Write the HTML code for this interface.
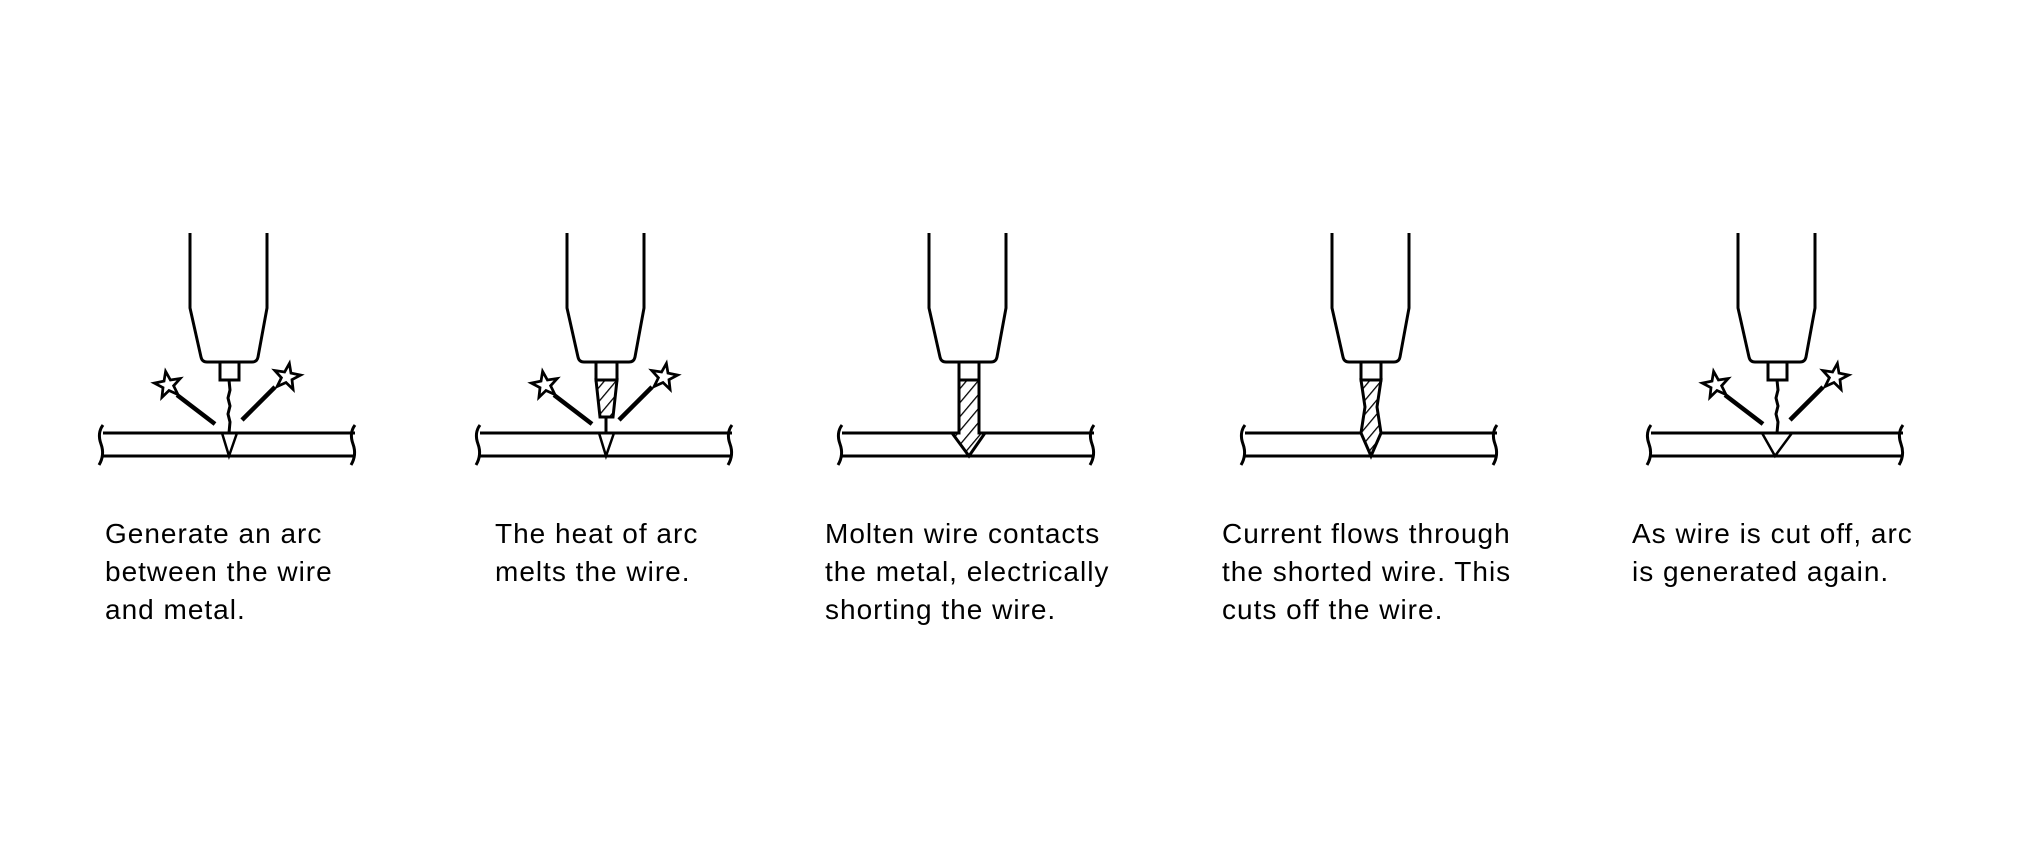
<!DOCTYPE html>
<html><head><meta charset="utf-8"><style>
html,body{margin:0;padding:0;background:#fff;}
svg{display:block;}
text{font-family:"Liberation Sans",Arial,sans-serif;font-size:28px;letter-spacing:1px;fill:#000;}
</style></head><body>
<svg width="2021" height="851" viewBox="0 0 2021 851" xmlns="http://www.w3.org/2000/svg">
<defs>
<pattern id="h" patternUnits="userSpaceOnUse" width="9" height="9" patternTransform="rotate(40)">
<rect width="9" height="9" fill="#fff"/><line x1="0" y1="0" x2="0" y2="9" stroke="#000" stroke-width="2.6"/>
</pattern>
<g id="base" fill="none" stroke="#000" stroke-width="3">
<path d="M-39 233 V308 L-28 357 Q-27 362 -22 362 H23 Q28 362 29 357 L38 308 V233"/>
<line x1="-126" y1="433" x2="126" y2="433"/>
<line x1="-126" y1="456" x2="126" y2="456"/>
<path d="M-126 425 Q-132 433 -128 444 Q-124 455 -130 465"/>
<path d="M126 425 Q120 433 124 444 Q128 455 122 465"/>
</g>
<g id="sparks" fill="none" stroke="#000">
<line x1="-52" y1="395" x2="-14" y2="424" stroke-width="4.5"/>
<line x1="46" y1="387" x2="13" y2="420" stroke-width="4.5"/>
<path transform="translate(-61,385) rotate(-10) scale(1.25)" stroke-width="2.2" d="M0 -11 L2.6 -3.6 L10.5 -3.4 L4.3 1.4 L6.5 8.9 L0 4.5 L-6.5 8.9 L-4.3 1.4 L-10.5 -3.4 L-2.6 -3.6 Z"/>
<path transform="translate(58,377) rotate(10) scale(1.25)" stroke-width="2.2" d="M0 -11 L2.6 -3.6 L10.5 -3.4 L4.3 1.4 L6.5 8.9 L0 4.5 L-6.5 8.9 L-4.3 1.4 L-10.5 -3.4 L-2.6 -3.6 Z"/>
</g>
</defs>

<g transform="translate(229,0)">
<use href="#base"/><use href="#sparks"/>
<rect x="-9" y="362" width="19" height="18" fill="#fff" stroke="#000" stroke-width="3"/>
<path d="M0 380 L1 390 L-1 398 L1 406 L-1 414 L1 422 L0 433" fill="none" stroke="#000" stroke-width="3"/>
<path d="M-7 433 L0 456 L8 433" fill="none" stroke="#000" stroke-width="2.5"/>
</g>
<g transform="translate(606,0)">
<use href="#base"/><use href="#sparks"/>
<rect x="-10" y="362" width="21" height="18" fill="#fff" stroke="#000" stroke-width="3"/>
<path d="M-10 380 H11 L7 417 H-6 Z" fill="url(#h)" stroke="#000" stroke-width="3"/>
<line x1="0" y1="417" x2="0" y2="433" stroke="#000" stroke-width="3"/>
<path d="M-7 433 L0 456 L8 433" fill="none" stroke="#000" stroke-width="2.5"/>
</g>
<g transform="translate(968,0)">
<use href="#base"/>
<rect x="-9" y="362" width="20" height="18" fill="#fff" stroke="#000" stroke-width="3"/>
<path d="M-9 380 H11 V433 L17 433 L1 456 L-16 433 L-9 433 Z" fill="url(#h)" stroke="#000" stroke-width="3"/>
</g>
<g transform="translate(1371,0)">
<use href="#base"/>
<rect x="-10" y="362" width="20" height="18" fill="#fff" stroke="#000" stroke-width="3"/>
<path d="M-10 380 H10 L6 407 L10 433 L0 456 L-10 433 L-6 407 Z" fill="url(#h)" stroke="#000" stroke-width="3"/>
</g>
<g transform="translate(1777,0)">
<use href="#base"/><use href="#sparks"/>
<rect x="-9" y="362" width="19" height="18" fill="#fff" stroke="#000" stroke-width="3"/>
<path d="M0 380 L1 390 L-1 398 L1 406 L-1 414 L1 422 L0 433" fill="none" stroke="#000" stroke-width="3"/>
<path d="M-15 433 L-2 456 L15 433" fill="none" stroke="#000" stroke-width="2.5"/>
</g>

<text x="105" y="543">Generate an arc</text>
<text x="105" y="581">between the wire</text>
<text x="105" y="619">and metal.</text>

<text x="495" y="543">The heat of arc</text>
<text x="495" y="581">melts the wire.</text>

<text x="825" y="543">Molten wire contacts</text>
<text x="825" y="581">the metal, electrically</text>
<text x="825" y="619">shorting the wire.</text>

<text x="1222" y="543">Current flows through</text>
<text x="1222" y="581">the shorted wire. This</text>
<text x="1222" y="619">cuts off the wire.</text>

<text x="1632" y="543">As wire is cut off, arc</text>
<text x="1632" y="581">is generated again.</text>
</svg>
</body></html>
